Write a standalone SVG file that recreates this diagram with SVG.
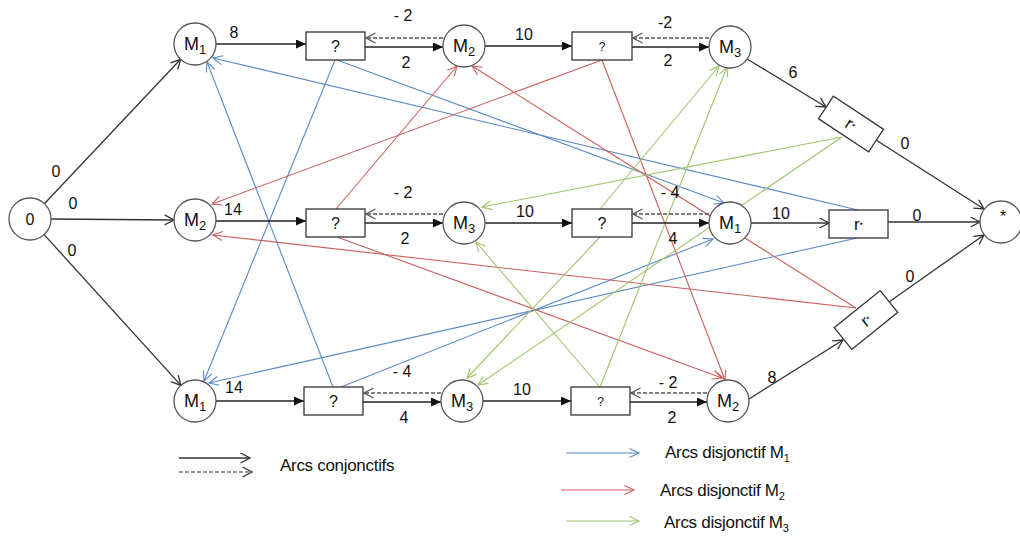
<svg xmlns="http://www.w3.org/2000/svg" width="1020" height="539" viewBox="0 0 1020 539">
<style>
text{font-family:"Liberation Sans",Arial,sans-serif;fill:#111}
.nd circle{fill:#fff;stroke:#555;stroke-width:1.3}
.nd rect{fill:#fff;stroke:#333;stroke-width:1.3}
.lm{font-size:18px;text-anchor:middle}
.lq{font-size:16px;text-anchor:middle}
.lbl{font-size:16px;text-anchor:middle}
.leg{font-size:17px;letter-spacing:-0.3px}
.kf{stroke:#222;stroke-width:1.3;fill:none;marker-end:url(#fa)}
.ko{stroke:#333;stroke-width:1.3;fill:none;marker-end:url(#oa)}
.kd{stroke:#555;stroke-width:1.5;fill:none;stroke-dasharray:4 2;marker-end:url(#od)}
.b{stroke:#5a89c8;stroke-width:1.1;fill:none;marker-end:url(#ob)}
.r{stroke:#cc5f5c;stroke-width:1.1;fill:none;marker-end:url(#or)}
.g{stroke:#a0c46a;stroke-width:1.1;fill:none;marker-end:url(#og)}
</style>
<defs>
<marker id="fa" markerUnits="userSpaceOnUse" markerWidth="11" markerHeight="10" refX="10" refY="4.5" orient="auto"><path d="M0,0 L10,4.5 L0,9 z" fill="#111"/></marker>
<marker id="oa" markerUnits="userSpaceOnUse" markerWidth="12" markerHeight="12" refX="10" refY="5.5" orient="auto"><path d="M0.5,0.5 L10,5.5 L0.5,10.5" fill="none" stroke="#333" stroke-width="1.3"/></marker>
<marker id="od" markerUnits="userSpaceOnUse" markerWidth="12" markerHeight="12" refX="10" refY="5.5" orient="auto"><path d="M0.5,0.5 L10,5.5 L0.5,10.5" fill="none" stroke="#555" stroke-width="1.3"/></marker>
<marker id="ob" markerUnits="userSpaceOnUse" markerWidth="12" markerHeight="12" refX="10" refY="5" orient="auto"><path d="M0.5,0.5 L10,5 L0.5,9.5" fill="none" stroke="#5a89c8" stroke-width="1.1"/></marker>
<marker id="or" markerUnits="userSpaceOnUse" markerWidth="12" markerHeight="12" refX="10" refY="5" orient="auto"><path d="M0.5,0.5 L10,5 L0.5,9.5" fill="none" stroke="#cc5f5c" stroke-width="1.1"/></marker>
<marker id="og" markerUnits="userSpaceOnUse" markerWidth="12" markerHeight="12" refX="10" refY="5" orient="auto"><path d="M0.5,0.5 L10,5 L0.5,9.5" fill="none" stroke="#a0c46a" stroke-width="1.1"/></marker>
</defs>

<g id="connectors">
<!-- disjunctive M1 (blue) -->
<path class="b" d="M335,60 L204,381"/>
<path class="b" d="M333,387 L207,62"/>
<path class="b" d="M337,60 L724,203"/>
<path class="b" d="M341,387 L713,239"/>
<path class="b" d="M858,210 L213,58"/>
<path class="b" d="M857,238 L209,383"/>
<!-- disjunctive M2 (red) -->
<path class="r" d="M336,209 L457,66"/>
<path class="r" d="M602,60 L212,204"/>
<path class="r" d="M602,60 L725,380"/>
<path class="r" d="M856,308 L472,66"/>
<path class="r" d="M856,308 L213,235"/>
<path class="r" d="M337,237 L722,378"/>
<!-- disjunctive M3 (green) -->
<path class="g" d="M842,137 L482,207"/>
<path class="g" d="M842,137 L478,385"/>
<path class="g" d="M600,237 L467,378"/>
<path class="g" d="M600,387 L476,242"/>
<path class="g" d="M600,387 L727,67"/>
<path class="g" d="M600,209 L719,66"/>
<!-- conjunctive -->
<path class="ko" d="M44.4,203.7 L180.6,59.3"/>
<path class="ko" d="M51,219 L174,220"/>
<path class="ko" d="M44.1,234.6 L180.9,385.4"/>
<path class="kf" d="M216,44 L306,44"/>
<path class="kf" d="M365,47 L443,47"/>
<path class="kd" d="M443,38 L366,38"/>
<path class="kf" d="M485,46 L572,46"/>
<path class="kf" d="M632,47 L709,47"/>
<path class="kd" d="M709,38 L633,38"/>
<path class="ko" d="M747,59 L826,107"/>
<path class="ko" d="M876,140 L984,209"/>
<path class="kf" d="M216,221 L306,221"/>
<path class="kf" d="M365,223 L443,223"/>
<path class="kd" d="M443,214 L366,214"/>
<path class="kf" d="M485,223 L572,223"/>
<path class="kf" d="M632,223 L709,223"/>
<path class="kd" d="M709,214 L633,214"/>
<path class="ko" d="M751,223 L829,223"/>
<path class="ko" d="M888,222 L980,222"/>
<path class="kf" d="M216,401 L304,401"/>
<path class="kf" d="M363,402 L441,402"/>
<path class="kd" d="M441,393 L364,393"/>
<path class="kf" d="M483,401 L571,401"/>
<path class="kf" d="M630,402 L707,402"/>
<path class="kd" d="M707,393 L631,393"/>
<path class="ko" d="M749,399 L843,340"/>
<path class="ko" d="M889,302 L984,235"/>
</g>

<g id="edge-labels">
<text class="lbl" x="56" y="177">0</text>
<text class="lbl" x="73" y="209">0</text>
<text class="lbl" x="72" y="256">0</text>
<text class="lbl" x="234" y="38">8</text>
<text class="lbl" x="403" y="21">- 2</text>
<text class="lbl" x="406" y="68">2</text>
<text class="lbl" x="524" y="40">10</text>
<text class="lbl" x="665" y="28">-2</text>
<text class="lbl" x="668" y="66">2</text>
<text class="lbl" x="793" y="78">6</text>
<text class="lbl" x="905" y="149">0</text>
<text class="lbl" x="233" y="215">14</text>
<text class="lbl" x="403" y="198">- 2</text>
<text class="lbl" x="405" y="244">2</text>
<text class="lbl" x="525" y="217">10</text>
<text class="lbl" x="670" y="198">- 4</text>
<text class="lbl" x="673" y="244">4</text>
<text class="lbl" x="781" y="219">10</text>
<text class="lbl" x="917" y="221">0</text>
<text class="lbl" x="910" y="282">0</text>
<text class="lbl" x="772" y="383">8</text>
<text class="lbl" x="234" y="393">14</text>
<text class="lbl" x="402" y="377">- 4</text>
<text class="lbl" x="404" y="423">4</text>
<text class="lbl" x="522" y="395">10</text>
<text class="lbl" x="668" y="388">- 2</text>
<text class="lbl" x="672" y="423">2</text>
</g>

<g id="n-start" class="nd"><circle cx="30" cy="219" r="21"/><text class="lq" x="30" y="225">0</text></g>
<g id="n-end" class="nd"><circle cx="1001" cy="222" r="21"/><text class="lq" x="1003" y="222">*</text></g>

<g id="n-j1-m1" class="nd"><circle cx="195" cy="44" r="21"/><text class="lm" x="195" y="50">M<tspan font-size="13" dy="4">1</tspan></text></g>
<g id="n-j1-q1" class="nd"><rect x="306" y="32" width="59" height="28"/><text class="lq" x="335.5" y="52">?</text></g>
<g id="n-j1-m2" class="nd"><circle cx="464" cy="46" r="21"/><text class="lm" x="464" y="52">M<tspan font-size="13" dy="4">2</tspan></text></g>
<g id="n-j1-q2" class="nd"><rect x="572" y="32" width="60" height="28"/><text x="602" y="51" font-size="12" text-anchor="middle">?</text></g>
<g id="n-j1-m3" class="nd"><circle cx="730" cy="47" r="21"/><text class="lm" x="730" y="53">M<tspan font-size="13" dy="4">3</tspan></text></g>
<g id="n-j1-r" class="nd" transform="translate(851,124) rotate(33.4)"><rect x="-30" y="-13.5" width="60" height="27"/><text x="0" y="6" font-size="17" text-anchor="middle">r<tspan font-size="9" dy="-2">*</tspan></text></g>

<g id="n-j2-m2" class="nd"><circle cx="195" cy="220" r="21"/><text class="lm" x="195" y="226">M<tspan font-size="13" dy="4">2</tspan></text></g>
<g id="n-j2-q1" class="nd"><rect x="306" y="209" width="59" height="28"/><text class="lq" x="335.5" y="229">?</text></g>
<g id="n-j2-m3" class="nd"><circle cx="464" cy="223" r="21"/><text class="lm" x="464" y="229">M<tspan font-size="13" dy="4">3</tspan></text></g>
<g id="n-j2-q2" class="nd"><rect x="572" y="209" width="60" height="28"/><text class="lq" x="602" y="229">?</text></g>
<g id="n-j2-m1" class="nd"><circle cx="730" cy="223" r="21"/><text class="lm" x="730" y="229">M<tspan font-size="13" dy="4">1</tspan></text></g>
<g id="n-j2-r" class="nd"><rect x="829" y="210" width="59" height="28"/><text x="858.5" y="230" font-size="17" text-anchor="middle">r<tspan font-size="9" dy="-2">*</tspan></text></g>

<g id="n-j3-m1" class="nd"><circle cx="195" cy="401" r="21"/><text class="lm" x="195" y="407">M<tspan font-size="13" dy="4">1</tspan></text></g>
<g id="n-j3-q1" class="nd"><rect x="304" y="387" width="59" height="28"/><text class="lq" x="333.5" y="407">?</text></g>
<g id="n-j3-m3" class="nd"><circle cx="462" cy="401" r="21"/><text class="lm" x="462" y="407">M<tspan font-size="13" dy="4">3</tspan></text></g>
<g id="n-j3-q2" class="nd"><rect x="571" y="387" width="59" height="28"/><text x="600.5" y="406" font-size="12" text-anchor="middle">?</text></g>
<g id="n-j3-m2" class="nd"><circle cx="728" cy="401" r="21"/><text class="lm" x="728" y="407">M<tspan font-size="13" dy="4">2</tspan></text></g>
<g id="n-j3-r" class="nd" transform="translate(866,320) rotate(-38.8)"><rect x="-29.5" y="-14" width="59" height="28"/><text x="0" y="6" font-size="17" text-anchor="middle">r<tspan font-size="9" dy="-2">*</tspan></text></g>

<g id="legend">
<path class="ko" d="M179,458 L250,458"/>
<path class="kd" d="M179,472 L252,472" style="marker-end:url(#oa);stroke:#333;stroke-width:1.2"/>
<text class="leg" x="280" y="471">Arcs conjonctifs</text>
<path class="b" d="M566,453 L639,453"/>
<text class="leg" x="665" y="458">Arcs disjonctif M<tspan font-size="11" dy="4">1</tspan></text>
<path class="r" d="M561,490 L634,490"/>
<text class="leg" x="660" y="496">Arcs disjonctif M<tspan font-size="11" dy="4">2</tspan></text>
<path class="g" d="M566,521 L639,521"/>
<text class="leg" x="664" y="528">Arcs disjonctif M<tspan font-size="11" dy="4">3</tspan></text>
</g>
</svg>
